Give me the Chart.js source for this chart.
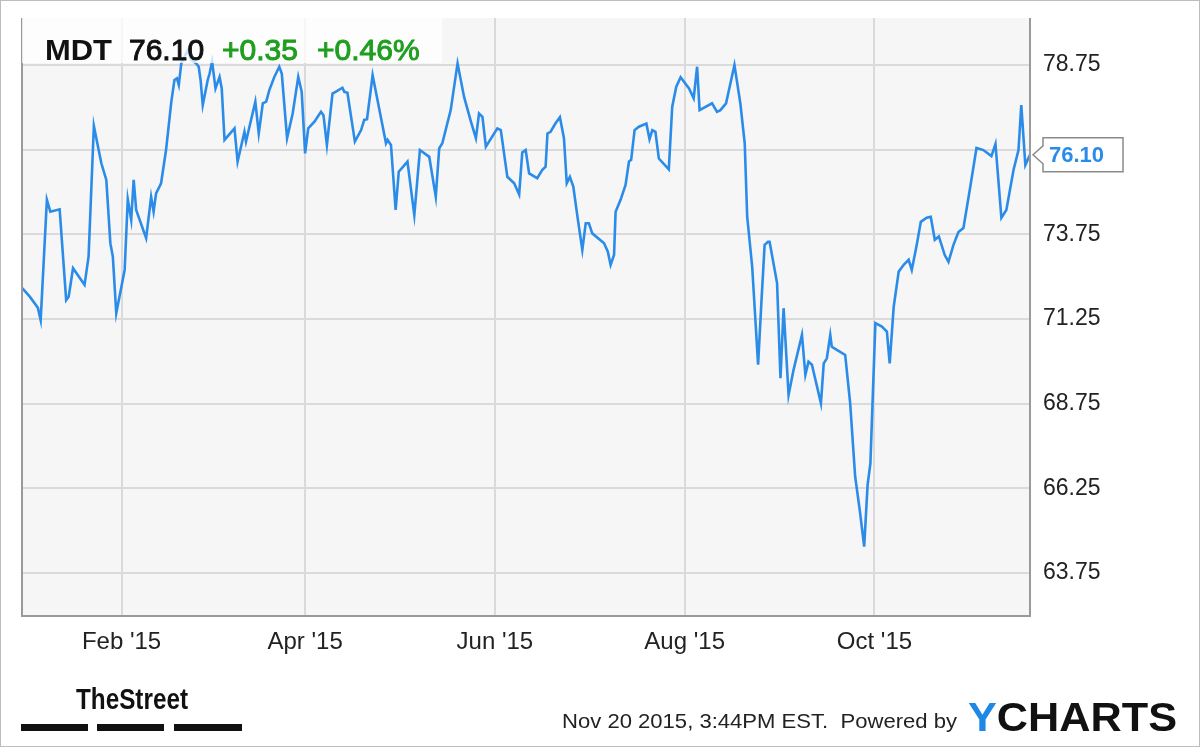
<!DOCTYPE html>
<html>
<head>
<meta charset="utf-8">
<script src="https://cdn.jsdelivr.net/npm/chart.js@4"></script>
<style>
  html, body { margin: 0; padding: 0; background: #fff; }
  #wrap { width: 1200px; height: 747px; position: relative; }
</style>
</head>
<body>
<div id="wrap"><canvas id="chart" width="1200" height="747"></canvas></div>
<script>
// days counted from Jan 1 2015 (Jan 1 = 0), closing prices of MDT
const days = [
  -1, 1.5, 4.1, 5.0, 7.0, 8.1, 11.1, 13.2, 14.0, 15.4, 19.1, 20.4, 22.1, 24.5, 26.1, 27.4, 28.2, 29.3,
  32.0, 33.0, 34.1, 34.9, 35.7, 38.9, 40.5, 41.3, 42.1, 43.7, 45.3, 47.0, 48.0, 48.8, 49.4, 50.2, 51.2,
  52.3, 53.5, 55.0, 55.8, 56.4, 57.1, 58.7, 59.3, 60.1, 61.2, 62.5, 63.2, 64.1, 67.3, 68.3, 70.5, 71.0,
  74.0, 75.1, 76.4, 77.5, 78.5, 80.1, 81.7, 82.5, 84.2, 86.0, 87.8, 88.9, 90.0, 91.0, 93.0, 95.1, 95.9,
  97.0, 98.8, 100.2, 102.0, 102.6, 103.6, 106.0, 108.0, 109.0, 109.9, 111.7, 113.8, 116.0, 116.5, 117.6,
  119.1, 120.1, 122.9, 125.1, 126.9, 129.9, 132.0, 133.1, 134.1, 136.8, 139.0, 141.1, 143.3, 144.9, 145.9,
  147.0, 148.1, 151.8, 152.9, 155.0, 157.2, 158.8, 159.8, 160.9, 162.0, 164.6, 166.2, 167.3, 167.9, 168.9,
  170.5, 171.9, 173.2, 174.1, 175.1, 176.2, 177.7, 179.1, 180.2, 181.2, 182.3, 186.1, 187.3, 188.2, 189.3,
  189.8, 191.4, 193.0, 194.1, 194.8, 195.9, 197.3, 199.7, 200.7, 201.6, 202.6, 203.7, 206.9, 208.0, 209.3,
  210.7, 213.4, 214.9, 216.0, 216.8, 220.8, 222.4, 223.5, 225.3, 228.0, 229.9, 231.3, 232.1, 233.7, 235.6,
  236.7, 237.7, 238.8, 239.3, 241.7, 242.8, 243.8, 245.4, 247.0, 249.7, 250.8, 251.8, 252.9, 255.8, 256.7,
  257.7, 258.8, 259.3, 260.9, 263.6, 265.2, 266.8, 268.4, 269.7, 270.8, 271.7, 273.3, 275.4, 277.0, 277.9,
  279.2, 280.8, 282.4, 284.0, 285.0, 286.6, 287.9, 289.8, 291.1, 292.4, 293.7, 295.6, 296.8, 298.4, 300.0,
  301.6, 303.9, 305.8, 308.0, 310.6, 311.9, 313.8, 315.4, 317.7, 319.3, 320.2, 321.5, 323
];
const prices = [
  72.17, 71.91, 71.58, 71.22, 74.77, 74.42, 74.49, 71.81, 71.91, 72.75, 72.26, 73.09, 76.95, 75.85, 75.36, 73.49, 73.09, 71.42,
  72.70, 74.79, 74.18, 75.36, 74.47, 73.64, 74.86, 74.42, 74.96, 75.26, 76.24, 77.67, 78.31, 78.36, 78.16, 78.80, 78.99,
  79.19, 78.90, 78.80, 78.70, 78.31, 77.57, 78.31, 78.50, 78.85, 78.06, 78.40, 78.06, 76.54, 76.88, 75.90, 76.78, 76.49,
  77.67, 76.73, 77.62, 77.67, 78.01, 78.40, 78.70, 78.50, 76.59, 77.32, 78.40, 77.96, 76.14, 76.88, 77.08, 77.37, 77.27,
  76.39, 77.91, 77.98, 78.08, 77.96, 77.93, 76.49, 76.83, 77.13, 77.15, 78.45, 77.47, 76.44, 76.54, 76.39,
  74.47, 75.60, 75.90, 74.32, 76.24, 76.04, 74.86, 76.29, 76.44, 77.42, 78.80, 77.81, 77.08, 76.59, 77.32,
  77.22, 76.34, 76.88, 76.83, 75.45, 75.26, 74.93, 76.17, 76.24, 75.55, 75.41, 75.65, 75.75, 76.73, 76.78,
  77.03, 77.21, 76.59, 75.26, 75.45, 75.16, 74.17, 73.29, 74.08, 74.08, 73.78, 73.49, 73.24, 72.85, 73.14,
  74.42, 74.77, 75.21, 75.90, 75.95, 76.83, 76.93, 77.02, 76.56, 76.83, 76.78, 75.99, 75.67, 77.52, 78.11,
  78.39, 78.06, 77.77, 78.70, 77.42, 77.62, 77.37, 77.42, 77.62, 78.75, 77.62, 76.44, 74.27, 72.80, 69.90,
  71.81, 73.44, 73.53, 73.53, 72.31, 69.50, 71.57, 69.01, 69.75, 70.78, 69.60, 69.99, 69.90, 68.76, 69.94,
  70.09, 70.78, 70.43, 70.34, 70.19, 68.76, 66.60, 65.52, 64.53, 66.35, 66.99, 71.13, 71.03, 70.88, 69.94,
  71.62, 72.65, 72.85, 73.00, 72.70, 73.44, 74.12, 74.24, 74.27, 73.59, 73.69, 73.14, 72.94, 73.44, 73.82,
  73.94, 75.21, 76.30, 76.24, 76.06, 76.42, 74.24, 74.47, 75.65, 76.24, 77.57, 75.80, 76.10
];
const monthDays = [31, 90, 151, 212, 273];
const monthLabels = ["Feb '15", "Apr '15", "Jun '15", "Aug '15", "Oct '15"];
const priceTicks = [63.75, 66.25, 68.75, 71.25, 73.75, 76.25, 78.75];

const ticker = 'MDT';
const lastPrice = '76.10';
const change = '+0.35';
const changePct = '+0.46%';
const stamp = 'Nov 20 2015, 3:44PM EST.  Powered by';

const lineBlue = '#2a8ce8';
const green = '#1f9e1f';

function drawScaledText(ctx, text, x, y, width) {
  const w = ctx.measureText(text).width;
  ctx.save();
  ctx.translate(x, y);
  ctx.scale(width / w, 1);
  ctx.fillText(text, 0, 0);
  ctx.restore();
}

const decor = {
  id: 'decor',
  beforeDraw(chart) {
    const { ctx, chartArea: a } = chart;
    ctx.save();
    ctx.fillStyle = '#fff';
    ctx.fillRect(0, 0, chart.width, chart.height);
    ctx.fillStyle = '#f6f6f6';
    ctx.fillRect(a.left, a.top, a.right - a.left, a.bottom - a.top);
    ctx.restore();
  },
  afterDatasetsDraw(chart) {
    const { ctx, chartArea: a, scales } = chart;
    ctx.save();
    // plot frame
    ctx.strokeStyle = '#9a9a9a';
    ctx.lineWidth = 2;
    ctx.beginPath();
    ctx.moveTo(a.left, a.top);
    ctx.lineTo(a.left, a.bottom);
    ctx.lineTo(a.right, a.bottom);
    ctx.lineTo(a.right, a.top);
    ctx.stroke();

    // header box
    ctx.fillStyle = 'rgba(255,255,255,0.75)';
    ctx.fillRect(a.left, a.top, 420, 45);
    ctx.textBaseline = 'alphabetic';
    ctx.textAlign = 'left';
    ctx.fillStyle = '#111';
    ctx.font = 'bold 30px "Liberation Sans", Arial, sans-serif';
    drawScaledText(ctx, ticker, 45, 60, 67);
    ctx.font = '30px "Liberation Sans", Arial, sans-serif';
    ctx.lineWidth = 1;
    ctx.strokeStyle = '#111';
    ctx.fillText(lastPrice, 129, 60);
    ctx.strokeText(lastPrice, 129, 60);
    ctx.fillStyle = green;
    ctx.strokeStyle = green;
    ctx.fillText(change, 222, 60);
    ctx.strokeText(change, 222, 60);
    ctx.fillText(changePct, 317, 60);
    ctx.strokeText(changePct, 317, 60);

    // last value callout
    const yv = scales.y.getPixelForValue(parseFloat(lastPrice));
    const x0 = a.right + 3;
    ctx.fillStyle = '#fff';
    ctx.strokeStyle = '#8a8a8a';
    ctx.lineWidth = 1.5;
    ctx.beginPath();
    ctx.moveTo(x0, yv);
    ctx.lineTo(x0 + 10, yv - 9);
    ctx.lineTo(x0 + 10, yv - 17);
    ctx.lineTo(x0 + 90, yv - 17);
    ctx.lineTo(x0 + 90, yv + 17);
    ctx.lineTo(x0 + 10, yv + 17);
    ctx.lineTo(x0 + 10, yv + 9);
    ctx.closePath();
    ctx.fill();
    ctx.stroke();
    ctx.fillStyle = lineBlue;
    ctx.font = 'bold 22px "Liberation Sans", Arial, sans-serif';
    ctx.textBaseline = 'middle';
    ctx.fillText(lastPrice, x0 + 16, yv + 1);

    // footer
    ctx.textBaseline = 'alphabetic';
    ctx.fillStyle = '#111';
    ctx.font = 'bold 30px "Liberation Sans", Arial, sans-serif';
    drawScaledText(ctx, 'TheStreet', 76, 709, 112);
    ctx.fillRect(21, 724, 67, 7);
    ctx.fillRect(97, 724, 67, 7);
    ctx.fillRect(174, 724, 68, 7);

    ctx.font = '21px "Liberation Sans", Arial, sans-serif';
    ctx.fillStyle = '#222';
    drawScaledText(ctx, stamp, 562, 728, 395);

    ctx.font = 'bold 40px "Liberation Sans", Arial, sans-serif';
    const wY = ctx.measureText('Y').width;
    const wAll = ctx.measureText('YCHARTS').width;
    const k = 209 / wAll;
    ctx.save();
    ctx.translate(968, 731);
    ctx.scale(k, 1);
    ctx.fillStyle = '#1e88e5';
    ctx.fillText('Y', 0, 0);
    ctx.fillStyle = '#111';
    ctx.fillText('CHARTS', wY, 0);
    ctx.restore();

    // outer frame
    ctx.strokeStyle = '#bdbdbd';
    ctx.lineWidth = 1;
    ctx.strokeRect(0.5, 0.5, chart.width - 1, chart.height - 1);
    ctx.restore();
  }
};

new Chart(document.getElementById('chart'), {
  type: 'line',
  data: {
    datasets: [{
      data: days.map((d, i) => ({ x: d, y: prices[i] })),
      borderColor: lineBlue,
      borderWidth: 2.6,
      pointRadius: 0,
      tension: 0,
      fill: false
    }]
  },
  options: {
    responsive: false,
    animation: false,
    events: [],
    layout: { padding: { left: 22, top: 18, right: 0, bottom: 0 } },
    plugins: { legend: { display: false }, tooltip: { enabled: false } },
    scales: {
      x: {
        type: 'linear',
        min: -1,
        max: 323,
        afterBuildTicks: (s) => { s.ticks = monthDays.map(v => ({ value: v })); },
        afterFit: (s) => { s.height = 131; s.paddingLeft = 0; s.paddingRight = 0; },
        grid: { color: '#dadada', lineWidth: 2, drawTicks: false },
        border: { display: false },
        ticks: {
          padding: 12,
          maxRotation: 0,
          autoSkip: false,
          color: '#222',
          font: { family: '"Liberation Sans", Arial, sans-serif', size: 24 },
          callback: (v) => monthLabels[monthDays.indexOf(v)]
        }
      },
      y: {
        position: 'right',
        min: 62.48,
        max: 80.14,
        afterBuildTicks: (s) => { s.ticks = priceTicks.map(v => ({ value: v })); },
        afterFit: (s) => { s.width = 170; s.paddingTop = 0; s.paddingBottom = 0; },
        grid: { color: '#dadada', lineWidth: 2, drawTicks: false },
        border: { display: false },
        ticks: {
          padding: 13,
          color: '#222',
          font: { family: '"Liberation Sans", Arial, sans-serif', size: 23 },
          callback: (v) => v.toFixed(2)
        }
      }
    }
  },
  plugins: [decor]
});
</script>
</body>
</html>
